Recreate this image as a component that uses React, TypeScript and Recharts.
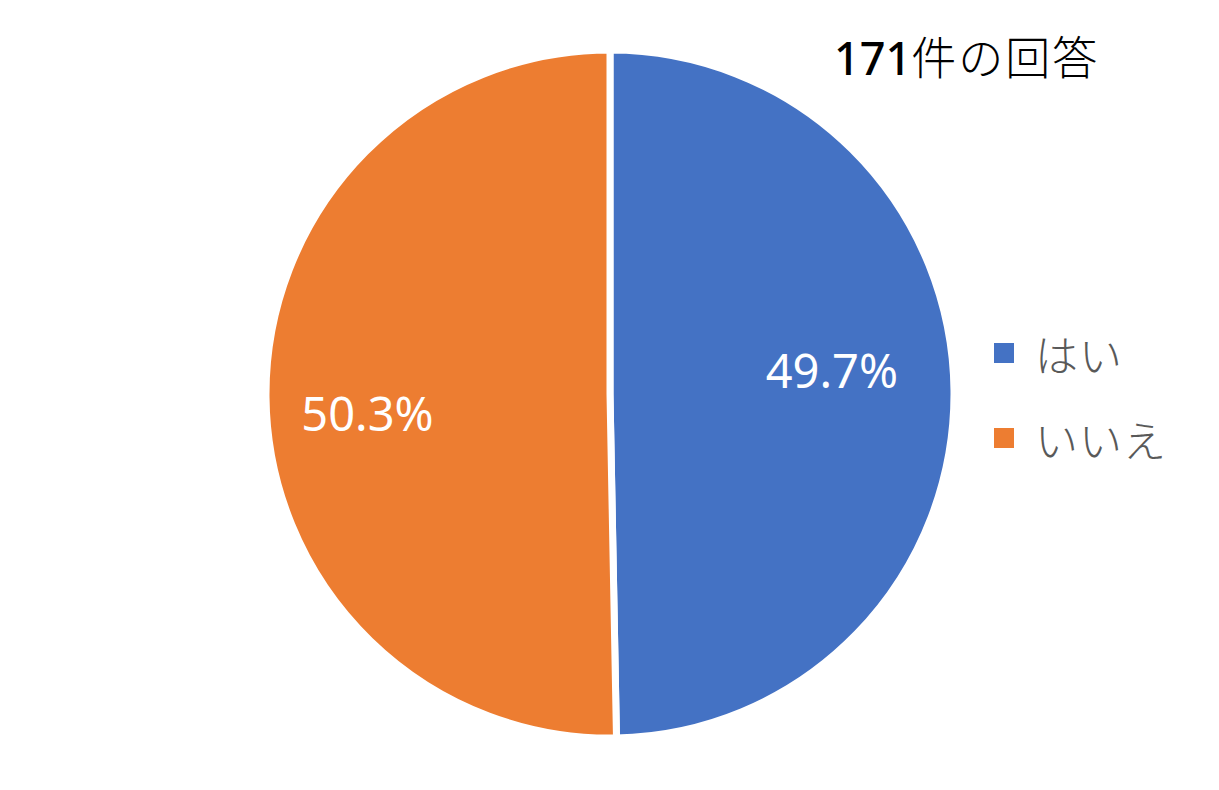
import React from "react";
import { PieChart, Pie, Cell, Legend } from "recharts";

const categories = ["はい", "いいえ"];
const values = [49.7, 50.3];
const colors = ["#4472C4", "#ED7D31"];
const title = "171件の回答";

const data = categories.map((name, i) => ({ name, value: values[i] }));

const W = 1219;
const H = 790;
const CX = 610;
const CY = 394;
const OUTER = 344;
// visual nudge for labels (Excel best-fit placement)
const labelNudge = [
  { r: 0.645, dy: -22 },
  { r: 0.705, dy: 17 },
];

const RAD = Math.PI / 180;

const renderLabel = (props: any) => {
  const { cx, cy, midAngle, outerRadius, index, value } = props;
  const n = labelNudge[index];
  const r = outerRadius * n.r;
  const x = cx + r * Math.cos(-midAngle * RAD);
  const y = cy + r * Math.sin(-midAngle * RAD) + n.dy;
  return (
    <text
      x={x}
      y={y}
      fill="#ffffff"
      textAnchor="middle"
      dominantBaseline="central"
      fontFamily="'Noto Sans', sans-serif"
      fontSize={47}
    >
      {`${value.toFixed(1)}%`}
    </text>
  );
};

const renderLegend = (props: any) => {
  const payload = [...(props.payload || [])].sort(
    (a: any, b: any) => categories.indexOf(a.value) - categories.indexOf(b.value)
  );
  return (
    <div style={{ fontFamily: "'Noto Sans CJK JP', sans-serif" }}>
      {payload.map((entry: any, i: number) => (
        <div
          key={i}
          style={{ display: "flex", alignItems: "center", height: 85 }}
        >
          <div
            style={{
              width: 20,
              height: 20,
              background: entry.color,
              marginRight: 21,
            }}
          />
          <span
            style={{
              fontSize: 43,
              color: "#595959",
              letterSpacing: 1,
              fontWeight: 300,
            }}
          >
            {entry.value}
          </span>
        </div>
      ))}
    </div>
  );
};

const titleMatch = title.match(/^(\d+)(.*)$/);
const titleNum = titleMatch ? titleMatch[1] : "";
const titleRest = titleMatch ? titleMatch[2] : title;

export default function App() {
  return (
    <div
      style={{
        position: "absolute",
        left: 0,
        top: 0,
        width: W,
        height: H,
        background: "#ffffff",
      }}
    >
      <PieChart width={W} height={H} margin={{ top: 0, right: 0, bottom: 0, left: 0 }}>
        <Pie
          data={data}
          dataKey="value"
          nameKey="name"
          cx={CX}
          cy={CY}
          outerRadius={OUTER}
          startAngle={90}
          endAngle={-270}
          stroke="#ffffff"
          strokeWidth={7}
          label={renderLabel}
          labelLine={false}
          isAnimationActive={false}
        >
          {data.map((d, i) => (
            <Cell key={d.name} fill={colors[i]} />
          ))}
        </Pie>
        <Legend
          layout="vertical"
          itemSorter={null as any}
          content={renderLegend}
          wrapperStyle={{ left: 994, top: 310, width: 220 }}
        />
      </PieChart>
      <div
        style={{
          position: "absolute",
          left: 834,
          top: 26,
          fontFamily: "'Noto Sans CJK JP', sans-serif",
          fontSize: 45,
          fontWeight: 300,
          letterSpacing: 2,
          color: "#000000",
          lineHeight: "60px",
          whiteSpace: "nowrap",
        }}
      >
        <span style={{ fontFamily: "'Noto Sans', sans-serif", fontWeight: 500, letterSpacing: 0 }}>
          {titleNum}
        </span>
        {titleRest}
      </div>
    </div>
  );
}
